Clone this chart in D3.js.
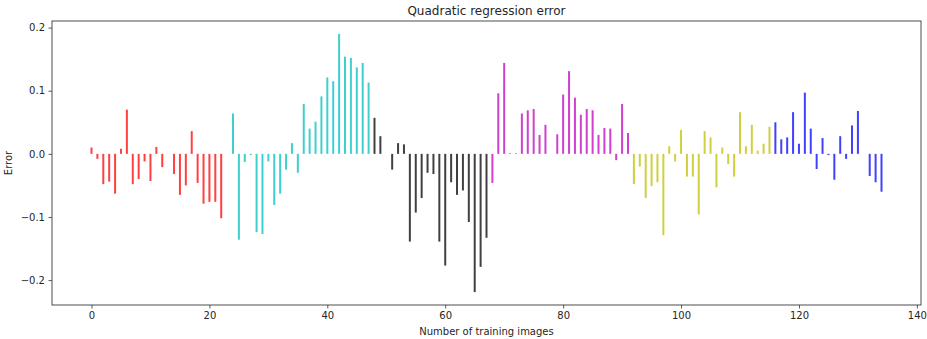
<!DOCTYPE html>
<html>
<head>
<meta charset="utf-8">
<script src="https://cdn.jsdelivr.net/npm/d3@7/dist/d3.min.js"></script>
<style>
  html, body { margin: 0; padding: 0; background: #fff; }
  svg text { font-family: "DejaVu Sans", sans-serif; fill: #262626; }
</style>
</head>
<body>
<div id="chart"></div>
<script>
// Regression error per number of training images, grouped into six colour runs
const redErrors = [0.010, -0.008, -0.048, -0.044, -0.063, 0.008, 0.070, -0.048, -0.040, -0.012,
  -0.043, 0.011, -0.021, 0.000, -0.032, -0.065, -0.050, 0.036, -0.046, -0.079,
  -0.076, -0.076, -0.102, 0.000];
const cyanErrors = [0.064, -0.136, -0.013, -0.002, -0.124, -0.127, -0.012, -0.081, -0.063, -0.025,
  0.017, -0.030, 0.079, 0.040, 0.051, 0.091, 0.121, 0.115, 0.190, 0.154,
  0.152, 0.137, 0.144, 0.113];
const blackErrors = [0.057, 0.028, 0.000, -0.025, 0.017, 0.015, -0.139, -0.093, -0.070, -0.030,
  -0.032, -0.139, -0.177, -0.045, -0.065, -0.058, -0.108, -0.219, -0.179, -0.133];
const magentaErrors = [-0.046, 0.096, 0.144, 0.001, 0.001, 0.064, 0.069, 0.071, 0.030, 0.046,
  0.000, 0.031, 0.094, 0.131, 0.089, 0.062, 0.071, 0.069, 0.030, 0.041,
  0.040, -0.010, 0.079, 0.033];
const yellowErrors = [-0.048, -0.020, -0.070, -0.051, -0.045, -0.129, 0.012, -0.012, 0.038, -0.036,
  -0.036, -0.096, 0.036, 0.026, -0.053, 0.010, -0.016, -0.036, 0.066, 0.012,
  0.046, 0.005, 0.016, 0.043];
const blueErrors = [0.050, 0.023, 0.026, 0.066, 0.016, 0.097, 0.040, -0.024, 0.025, -0.002,
  -0.041, 0.028, -0.008, 0.045, 0.068, 0.000, -0.035, -0.045, -0.060];

const seriesColors = ["#ff4040", "#40cfcf", "#404040", "#cf40cf", "#cfcf40", "#4040ff"];
const seriesValues = [redErrors, cyanErrors, blackErrors, magentaErrors, yellowErrors, blueErrors];

const xTicks = [0, 20, 40, 60, 80, 100, 120, 140];
const yTicks = [-0.2, -0.1, 0.0, 0.1, 0.2];

// Flatten into one run of points indexed by training-image count
const points = [];
seriesValues.forEach((vals, s) => {
  vals.forEach(v => points.push({ n: points.length, err: v, color: seriesColors[s] }));
});

const W = 927, H = 339;
const margin = { left: 52, right: 6, top: 21, bottom: 34 };
const plotW = W - margin.left - margin.right;
const plotH = H - margin.top - margin.bottom;

const svg = d3.select("#chart").append("svg")
  .attr("width", W).attr("height", H);

const nMax = points.length - 1;
const xPad = nMax * 0.05;
const x = d3.scaleLinear().domain([-xPad, nMax + xPad]).range([0, plotW]);

const yMin = d3.min(points, d => d.err), yMax = d3.max(points, d => d.err);
const yPad = (yMax - yMin) * 0.05;
const y = d3.scaleLinear().domain([yMin - yPad, yMax + yPad]).range([plotH, 0]);

const g = svg.append("g").attr("transform", `translate(${margin.left},${margin.top})`);

// Vertical error bars from zero
g.append("g").selectAll("line")
  .data(points)
  .join("line")
  .attr("x1", d => x(d.n)).attr("x2", d => x(d.n))
  .attr("y1", y(0)).attr("y2", d => y(d.err))
  .attr("stroke", d => d.color)
  .attr("stroke-width", 2);

const fmtY = v => (v < 0 ? "\u2212" : "") + Math.abs(v).toFixed(1);

const xAxis = g.append("g")
  .attr("transform", `translate(0,${plotH})`)
  .call(d3.axisBottom(x).tickValues(xTicks).tickSize(3.5).tickPadding(3.5).tickFormat(d3.format("d")));
const yAxis = g.append("g")
  .call(d3.axisLeft(y).tickValues(yTicks).tickSize(3.5).tickPadding(3.5).tickFormat(fmtY));

[xAxis, yAxis].forEach(a => {
  a.select(".domain").remove();
  a.selectAll(".tick line").attr("stroke", "#333").attr("stroke-width", 0.8);
  a.selectAll(".tick text").attr("font-size", 10).style("fill", "#262626");
});

// Frame around the plotting area
g.append("rect")
  .attr("x", 0).attr("y", 0).attr("width", plotW).attr("height", plotH)
  .attr("fill", "none").attr("stroke", "#222").attr("stroke-width", 0.8);

svg.append("text")
  .attr("x", margin.left + plotW / 2).attr("y", 15)
  .attr("text-anchor", "middle").attr("font-size", 12)
  .text("Quadratic regression error");

svg.append("text")
  .attr("x", margin.left + plotW / 2).attr("y", 335)
  .attr("text-anchor", "middle").attr("font-size", 10)
  .text("Number of training images");

svg.append("text")
  .attr("transform", `translate(12,${margin.top + plotH / 2}) rotate(-90)`)
  .attr("text-anchor", "middle").attr("font-size", 10)
  .text("Error");
</script>
</body>
</html>
